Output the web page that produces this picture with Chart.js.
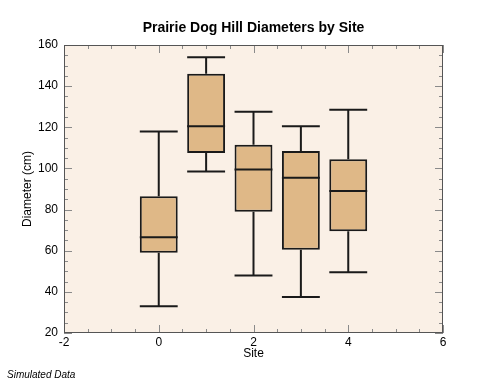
<!DOCTYPE html>
<html>
<head>
<meta charset="utf-8">
<script src="https://cdn.jsdelivr.net/npm/chart.js@4/dist/chart.umd.min.js"></script>
<style>
  html, body { margin: 0; padding: 0; background: #fff; }
  #wrap { width: 480px; height: 384px; }
</style>
</head>
<body>
<div id="wrap"><canvas id="chart" width="480" height="384"></canvas></div>
<script>
    "use strict";

    // Data
    var sites = [0, 1, 2, 3, 4];
    var whiskerLow = [33, 98.5, 48, 37.5, 49.5];
    var quart1 = [59, 107.5, 79, 60.5, 69.5];
    var medians = [66.5, 120.5, 99.5, 95.5, 89];
    var quart3 = [86.5, 146, 111.5, 108.5, 104.5];
    var whiskerHigh = [118, 154, 127.5, 120.5, 128.5];

    var xTicks = [-2, 0, 2, 4, 6];
    var yTicks = [20, 40, 60, 80, 100, 120, 140, 160];

    var fontFamily = "'Liberation Sans', Arial, Helvetica, sans-serif";

    // Plot background, inward ticks and frame
    var frame = {
        id: 'frame',
        beforeDatasetsDraw: function (chart) {
            var a = chart.chartArea, ctx = chart.ctx;
            ctx.save();
            ctx.fillStyle = '#FAF0E6';
            ctx.fillRect(a.left, a.top, a.right - a.left, a.bottom - a.top);
            ctx.restore();
        },
        afterDatasetsDraw: function (chart) {
            var a = chart.chartArea, ctx = chart.ctx;
            var xs = chart.scales.x, ys = chart.scales.y;
            ctx.save();

            // whiskers and medians
            ctx.strokeStyle = '#1a1a1a';
            ctx.lineWidth = 2;
            var bar = chart.getDatasetMeta(0).data;
            sites.forEach(function (s, i) {
                var cx = xs.getPixelForValue(s);
                var half = bar[i] ? bar[i].width / 2 : 19;
                var yq1 = ys.getPixelForValue(quart1[i]);
                var yq3 = ys.getPixelForValue(quart3[i]);
                var ylo = ys.getPixelForValue(whiskerLow[i]);
                var yhi = ys.getPixelForValue(whiskerHigh[i]);
                var ym = ys.getPixelForValue(medians[i]);
                ctx.beginPath();
                ctx.moveTo(cx, yq3); ctx.lineTo(cx, yhi);
                ctx.moveTo(cx - half, yhi); ctx.lineTo(cx + half, yhi);
                ctx.moveTo(cx, yq1); ctx.lineTo(cx, ylo);
                ctx.moveTo(cx - half, ylo); ctx.lineTo(cx + half, ylo);
                ctx.moveTo(cx - half, ym); ctx.lineTo(cx + half, ym);
                ctx.stroke();
            });

            // ticks pointing inward on all sides
            ctx.strokeStyle = '#8a8a8a';
            ctx.lineWidth = 1;
            ctx.beginPath();
            for (var v = -2; v <= 6.001; v += 0.5) {
                var px = Math.round(xs.getPixelForValue(v)) + 0.5;
                var len = (Math.abs(v % 2) < 0.001) ? 8 : 4;
                ctx.moveTo(px, a.bottom); ctx.lineTo(px, a.bottom - len);
                ctx.moveTo(px, a.top); ctx.lineTo(px, a.top + len);
            }
            for (var w = 20; w <= 160; w += 5) {
                var py = Math.round(ys.getPixelForValue(w)) + 0.5;
                var ln = (w % 20 === 0) ? 8 : 4;
                ctx.moveTo(a.left, py); ctx.lineTo(a.left + ln, py);
                ctx.moveTo(a.right, py); ctx.lineTo(a.right - ln, py);
            }
            ctx.stroke();

            ctx.strokeStyle = '#555';
            ctx.strokeRect(a.left + 0.5, a.top + 0.5, a.right - a.left - 1, a.bottom - a.top - 1);

            // title and footnote
            ctx.fillStyle = '#000';
            ctx.textAlign = 'center';
            ctx.textBaseline = 'middle';
            ctx.font = 'bold 14px ' + fontFamily;
            ctx.fillText('Prairie Dog Hill Diameters by Site', (a.left + a.right) / 2, 28);
            ctx.textAlign = 'left';
            ctx.font = 'italic 10px ' + fontFamily;
            ctx.fillText('Simulated Data', 7, 375);
            ctx.restore();
        }
    };

    var boxes = sites.map(function (s, i) {
        return { x: s, y: [quart1[i], quart3[i]] };
    });

    new Chart(document.getElementById('chart').getContext('2d'), {
        type: 'bar',
        data: {
            datasets: [{
                data: boxes,
                backgroundColor: '#DFB887',
                borderColor: '#1a1a1a',
                borderWidth: 2,
                borderSkipped: false,
                barPercentage: 0.8,
                categoryPercentage: 1.0
            }]
        },
        options: {
            responsive: false,
            animation: false,
            layout: { padding: { left: 16, right: 37, top: 45, bottom: 19 } },
            plugins: { legend: { display: false }, tooltip: { enabled: false }, title: { display: false } },
            scales: {
                x: {
                    type: 'linear',
                    min: -2,
                    max: 6,
                    offset: false,
                    afterBuildTicks: function (scale) {
                        scale.ticks = xTicks.map(function (v) { return { value: v }; });
                    },
                    afterFit: function (scale) { scale.height = 32; },
                    grid: { display: false, drawTicks: false, offset: false },
                    border: { display: false },
                    ticks: { color: '#000', padding: 2, maxRotation: 0, font: { family: fontFamily, size: 12 } },
                    title: { display: true, text: 'Site', color: '#000', padding: { top: 0, bottom: 4 }, font: { family: fontFamily, size: 12 } }
                },
                y: {
                    min: 20,
                    max: 160,
                    afterBuildTicks: function (scale) {
                        scale.ticks = yTicks.map(function (v) { return { value: v }; });
                    },
                    afterFit: function (scale) { scale.width = 48; },
                    grid: { display: false, drawTicks: false },
                    border: { display: false },
                    ticks: { color: '#000', padding: 6, font: { family: fontFamily, size: 12 } },
                    title: { display: true, text: 'Diameter (cm)', color: '#000', font: { family: fontFamily, size: 12 } }
                }
            }
        },
        plugins: [frame]
    });
</script>
</body>
</html>
